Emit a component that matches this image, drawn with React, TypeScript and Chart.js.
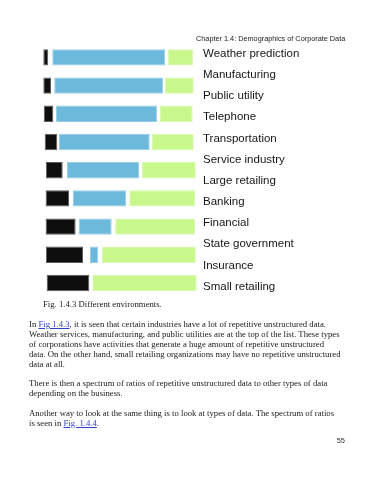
import React, { useEffect, useRef } from "react";
import { Chart, registerables } from "chart.js";

Chart.register(...registerables);

// Bar rows (decorative stacked ranges, 0-100 scale)
const rows = ["1", "2", "3", "4", "5", "6", "7", "8", "9"];
const industries = [
  "Weather prediction",
  "Manufacturing",
  "Public utility",
  "Telephone",
  "Transportation",
  "Service industry",
  "Large retailing",
  "Banking",
  "Financial",
  "State government",
  "Insurance",
  "Small retailing",
];
const blackRange: [number, number][] = [
  [0.2, 3.4],
  [0.2, 5.2],
  [0.5, 6.7],
  [1.1, 9.3],
  [1.9, 12.8],
  [1.7, 16.9],
  [1.7, 21.2],
  [1.9, 26.0],
  [2.4, 30.1],
];
const blueRange: ([number, number] | null)[] = [
  [6.0, 79.4],
  [7.3, 77.9],
  [8.4, 74.0],
  [10.4, 69.3],
  [15.6, 62.5],
  [19.3, 53.9],
  [23.2, 44.6],
  [30.5, 35.7],
  null,
];
const greenRange: [number, number][] = [
  [81.0, 97.6],
  [79.0, 97.9],
  [75.9, 97.2],
  [70.8, 97.9],
  [64.3, 99.2],
  [56.0, 98.7],
  [46.9, 98.7],
  [38.3, 99.2],
  [32.0, 99.8],
];

const para1 = [
  "Weather services, manufacturing, and public utilities are at the top of the list. These types",
  "of corporations have activities that generate a huge amount of repetitive unstructured",
  "data. On the other hand, small retailing organizations may have no repetitive unstructured",
  "data at all.",
];
const para2 = [
  "There is then a spectrum of ratios of repetitive unstructured data to other types of data",
  "depending on the business.",
];

const serif = "'Liberation Serif', 'Times New Roman', serif";
const sans = "'Liberation Sans', Arial, sans-serif";
const textColor = "#1a1a1a";
const linkColor = "#3344cc";

function Line({ top, children }: { top: number; children: React.ReactNode }) {
  return (
    <div
      style={{
        position: "absolute",
        left: 29,
        top,
        fontFamily: serif,
        fontSize: 8.7,
        lineHeight: "10px",
        whiteSpace: "nowrap",
        color: textColor,
      }}
    >
      {children}
    </div>
  );
}

function Link({ children }: { children: React.ReactNode }) {
  return <span style={{ color: linkColor, textDecoration: "underline" }}>{children}</span>;
}

export default function App() {
  const ref = useRef<HTMLCanvasElement | null>(null);

  useEffect(() => {
    if (!ref.current) return;
    const common = {
      grouped: false,
      borderSkipped: false as const,
      borderWidth: 1,
      categoryPercentage: 0.58,
      barPercentage: 1,
    };
    const chart = new Chart(ref.current, {
      type: "bar",
      data: {
        labels: rows,
        datasets: [
          {
            ...common,
            label: "Other",
            data: blackRange as any,
            backgroundColor: "#0e0e0e",
            borderColor: "#5c5c5c",
          },
          {
            ...common,
            label: "Repetitive unstructured",
            data: blueRange as any,
            backgroundColor: "#6db9dc",
            borderColor: "#98cde6",
          },
          {
            ...common,
            label: "Structured",
            data: greenRange as any,
            backgroundColor: "#c8f78c",
            borderColor: "#d9f9b2",
          },
        ],
      },
      options: {
        indexAxis: "y",
        responsive: false,
        animation: false,
        plugins: { legend: { display: false }, tooltip: { enabled: false } },
        layout: { padding: { left: 43, top: 43.3, bottom: 5.8, right: 53 } },
        scales: {
          x: { type: "linear", min: 0, max: 100, display: false },
          y: { type: "category", offset: true, display: false },
          y2: {
            type: "category",
            labels: industries,
            position: "right",
            offset: true,
            grid: { display: false, drawTicks: false },
            border: { display: false },
            ticks: {
              autoSkip: false,
              padding: 6,
              color: "#161616",
              font: { family: sans, size: 11.5 },
            },
            afterFit: (s: any) => {
              s.width = 120;
            },
          },
        },
      },
    });
    return () => chart.destroy();
  }, []);

  return (
    <div style={{ position: "absolute", left: 0, top: 0, width: 370, height: 480, background: "#fff" }}>
      <canvas
        ref={ref}
        width={370}
        height={310}
        style={{ position: "absolute", left: 0, top: 0, width: 370, height: 310 }}
      />
      <div
        style={{
          position: "absolute",
          left: 196,
          top: 35,
          fontFamily: sans,
          fontSize: 7.3,
          lineHeight: "7.3px",
          whiteSpace: "nowrap",
          color: "#222",
        }}
      >
        Chapter 1.4: Demographics of Corporate Data
      </div>
      <div
        style={{
          position: "absolute",
          left: 43,
          top: 299,
          fontFamily: serif,
          fontSize: 8.7,
          lineHeight: "10px",
          whiteSpace: "nowrap",
          color: textColor,
        }}
      >
        Fig. 1.4.3 Different environments.
      </div>
      <Line top={319}>
        In <Link>Fig 1.4.3</Link>, it is seen that certain industries have a lot of repetitive unstructured data.
      </Line>
      {para1.map((t, i) => (
        <Line key={"a" + i} top={329 + i * 10}>
          {t}
        </Line>
      ))}
      {para2.map((t, i) => (
        <Line key={"b" + i} top={378 + i * 10}>
          {t}
        </Line>
      ))}
      <Line top={407.5}>
        Another way to look at the same thing is to look at types of data. The spectrum of ratios
      </Line>
      <Line top={417.5}>
        is seen in <Link>Fig. 1.4.4</Link>.
      </Line>
      <div
        style={{
          position: "absolute",
          right: 25,
          top: 437,
          fontFamily: sans,
          fontSize: 7.5,
          lineHeight: "7.5px",
          color: "#333",
        }}
      >
        55
      </div>
    </div>
  );
}
